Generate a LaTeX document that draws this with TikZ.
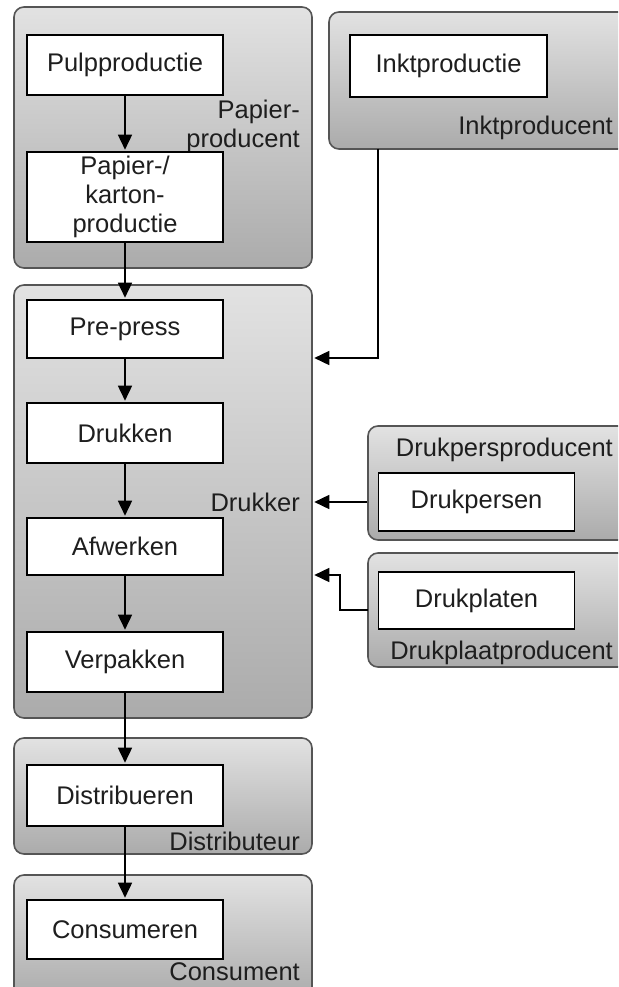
\documentclass[tikz,border=0pt]{standalone}
\usepackage{fontspec}
\setmainfont{Liberation Sans}
\usetikzlibrary{arrows.meta, positioning}
\definecolor{grpborder}{HTML}{555555}
\definecolor{grptop}{HTML}{E2E2E2}
\definecolor{grpbottom}{HTML}{ABABAB}
\definecolor{txtdark}{HTML}{1E1E1E}

\begin{document}
\begin{tikzpicture}[x=1pt, y=-1pt,
   font=\fontsize{25.5}{29}\selectfont,
   group/.style={draw=grpborder, line width=1.6pt, rounded corners=10pt,
      top color=grptop, bottom color=grpbottom, inner sep=0pt},
   stepbox/.style={draw=black, line width=1.6pt, fill=white,
      minimum width=196pt, align=center, inner sep=2pt, text=txtdark},
   grouplabel/.style={anchor=east, inner sep=0pt, align=right, text=txtdark},
   flow/.style={-{Triangle[length=15pt, width=14pt]}, line width=1.6pt, shorten >=1.5pt}
]
            % Frame
            \useasboundingbox (0,0) rectangle (618,987);
            \clip (0,0) rectangle (618,987);
            % Groups (actors)
            \node[group, minimum width=298pt, minimum height=261pt] (papg) at (163,137.5) {};
            \node[group, minimum width=311pt, minimum height=137pt] (inkg) at (484.5,80.5) {};
            \node[group, minimum width=298pt, minimum height=433pt] (drukg) at (163,501.5) {};
            \node[group, minimum width=272pt, minimum height=114pt] (persg) at (504,483) {};
            \node[group, minimum width=272pt, minimum height=114pt] (plaatg) at (504,610) {};
            \node[group, minimum width=298pt, minimum height=116pt] (distg) at (163,796) {};
            \node[group, minimum width=298pt, minimum height=125pt] (consg) at (163,937.5) {};
            % Group labels
            \node[grouplabel] (papl) at (300,126) {Papier-\\producent};
            \node[grouplabel] (inkl) at (613,128) {Inktproducent};
            \node[grouplabel] (drukl) at (300,502) {Drukker};
            \node[grouplabel] (persl) at (613,450) {Drukpersproducent};
            \node[grouplabel] (plaatl) at (613,653) {Drukplaatproducent};
            \node[grouplabel] (distl) at (300,841) {Distributeur};
            \node[grouplabel] (consl) at (300,972) {Consument};
            % Process steps
            \node[stepbox, minimum height=60pt] (pulp) at (125,65) {Pulpproductie};
            \node[stepbox, minimum height=90pt] (papier) at (125,197) {Papier-/\\karton-\\productie};
            \node[stepbox, minimum width=197pt, minimum height=62pt] (inkt) at (448.5,66) {Inktproductie};
            \node[stepbox, minimum height=58pt] (prepress) at (125,329) {Pre-press};
            \node[stepbox, minimum height=60pt] (drukken) at (125,433) {Drukken};
            \node[stepbox, minimum height=57pt] (afwerken) at (125,546.5) {Afwerken};
            \node[stepbox, minimum height=60pt] (verpakken) at (125,662) {Verpakken};
            \node[stepbox, minimum height=58pt] (persen) at (476.5,502) {Drukpersen};
            \node[stepbox, minimum height=57pt] (platen) at (476.5,600.5) {Drukplaten};
            \node[stepbox, minimum height=61pt] (distr) at (125,795.5) {Distribueren};
            \node[stepbox, minimum height=59pt] (consu) at (125,929.5) {Consumeren};
            % Main chain
            \draw[flow] (pulp) -- (papier);
            \draw[flow] (papier) -- (prepress);
            \draw[flow] (prepress) -- (drukken);
            \draw[flow] (drukken) -- (afwerken);
            \draw[flow] (afwerken) -- (verpakken);
            \draw[flow] (verpakken) -- (distr);
            \draw[flow] (distr) -- (consu);
            % Suppliers into Drukker
            \coordinate (inkout) at (378,149);
            \draw[flow] (inkout) |- (drukg.east |- 0,358);
            \draw[flow] (persg.west |- persen) -- (drukg.east |- persen);
            \coordinate (plaatout) at (368,610);
            \coordinate (plaatbend) at (340,610);
            \draw[flow] (plaatout) -- (plaatbend) |- (drukg.east |- 0,575);
         \end{tikzpicture}
\end{document}
